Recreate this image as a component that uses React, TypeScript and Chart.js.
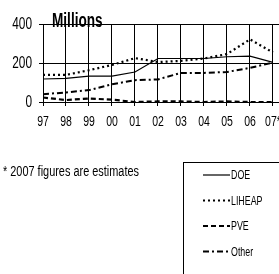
import React, { useEffect, useRef } from "react";
import { Chart, registerables } from "chart.js";

Chart.register(...registerables);

const years = [1997, 1998, 1999, 2000, 2001, 2002, 2003, 2004, 2005, 2006, 2007];
const xLabels = ["97", "98", "99", "00", "01", "02", "03", "04", "05", "06", "07*"];
const yTicks = [0, 200, 400];
const doe = [118, 121, 133, 133, 154, 223, 223, 223, 232, 235, 203];
const liheap = [139, 139, 163, 190, 225, 205, 211, 223, 246, 321, 254];
const pve = [23, 10, 18, 12, 0, 3, 3, 0, 3, 0, 0];
const other = [40, 49, 61, 91, 112, 116, 149, 149, 154, 175, 202];
const seriesNames = ["DOE", "LIHEAP", "PVE", "Other"];
const titleText = "Millions";
const footnote = "* 2007 figures are estimates";

const FONT = "'Liberation Sans', Arial, sans-serif";

const pts = (vals: number[]) => vals.map((v, i) => ({ x: years[i], y: v }));

function drawText(ctx: any, text: string, x: number, y: number, align: string, baseline: string, sx: number) {
  ctx.save();
  ctx.translate(x, y);
  ctx.scale(sx, 1);
  ctx.textAlign = align;
  ctx.textBaseline = baseline;
  ctx.fillText(text, 0, 0);
  ctx.restore();
}

const extrasPlugin = {
  id: "extras",
  afterDraw(chart: any) {
    const ctx = chart.ctx;
    const xs = chart.scales.x;
    const ys = chart.scales.y;
    ctx.save();
    ctx.fillStyle = "#000";

    // axis tick labels (condensed)
    ctx.font = `16px ${FONT}`;
    yTicks.forEach((v) => {
      drawText(ctx, String(v), 32, ys.getPixelForValue(v) + 1, "right", "middle", 0.74);
    });
    ctx.font = `15px ${FONT}`;
    years.forEach((yr, i) => {
      drawText(ctx, xLabels[i], xs.getPixelForValue(yr), 126, "center", "alphabetic", 0.7);
    });

    ctx.font = `bold 20px ${FONT}`;
    drawText(ctx, titleText, 52, 27, "left", "alphabetic", 0.68);

    ctx.font = `14px ${FONT}`;
    drawText(ctx, footnote, 3, 176, "left", "alphabetic", 0.78);

    // legend box
    ctx.strokeStyle = "#000";
    ctx.lineWidth = 1;
    ctx.setLineDash([]);
    ctx.strokeRect(183.5, 162.5, 200, 200);

    ctx.font = `13px ${FONT}`;
    chart.data.datasets.forEach((ds: any, i: number) => {
      const y = 175 + i * 25.5;
      ctx.beginPath();
      ctx.setLineDash(ds.borderDash || []);
      ctx.lineWidth = ds.borderWidth;
      ctx.strokeStyle = "#000";
      ctx.moveTo(203, y);
      ctx.lineTo(230, y);
      ctx.stroke();
      ctx.setLineDash([]);
      drawText(ctx, ds.label, 231, y + 0.5, "left", "middle", 0.68);
    });
    ctx.restore();
  },
};

export default function App() {
  const ref = useRef<HTMLCanvasElement>(null);
  useEffect(() => {
    if (!ref.current) return;
    const chart = new Chart(ref.current, {
      type: "line",
      data: {
        datasets: [
          { label: seriesNames[0], data: pts(doe), borderColor: "#000", borderWidth: 1.2, borderDash: [], pointRadius: 0, tension: 0 },
          { label: seriesNames[1], data: pts(liheap), borderColor: "#000", borderWidth: 2.2, borderDash: [2, 3], pointRadius: 0, tension: 0 },
          { label: seriesNames[2], data: pts(pve), borderColor: "#000", borderWidth: 2.2, borderDash: [5, 3], pointRadius: 0, tension: 0 },
          { label: seriesNames[3], data: pts(other), borderColor: "#000", borderWidth: 2, borderDash: [6, 3, 2, 3], pointRadius: 0, tension: 0 },
        ],
      },
      options: {
        animation: false,
        responsive: false,
        maintainAspectRatio: false,
        layout: { padding: { left: 0, right: 10, top: 24, bottom: 0 } },
        plugins: { legend: { display: false }, tooltip: { enabled: false }, title: { display: false } },
        scales: {
          x: {
            type: "linear",
            min: 1997,
            max: 2007.74,
            afterBuildTicks: (scale: any) => {
              scale.ticks = years.map((v) => ({ value: v }));
            },
            afterFit: (scale: any) => {
              scale.height = 172;
            },
            ticks: { display: false },
            grid: { color: "#000", lineWidth: 1, tickLength: 4 },
            border: { color: "#000", width: 1 },
          },
          y: {
            min: 0,
            max: 400,
            afterBuildTicks: (scale: any) => {
              scale.ticks = yTicks.map((v) => ({ value: v }));
            },
            afterFit: (scale: any) => {
              scale.width = 43;
            },
            ticks: { display: false },
            grid: { color: "#000", lineWidth: 1, tickLength: 4 },
            border: { color: "#000", width: 1 },
          },
        },
      },
      plugins: [extrasPlugin],
    });
    return () => chart.destroy();
  }, []);
  return (
    <div style={{ position: "absolute", left: 0, top: 0, width: 279, height: 274, overflow: "hidden", background: "#fff" }}>
      <canvas ref={ref} width={300} height={274} style={{ width: 300, height: 274, display: "block" }} />
    </div>
  );
}
